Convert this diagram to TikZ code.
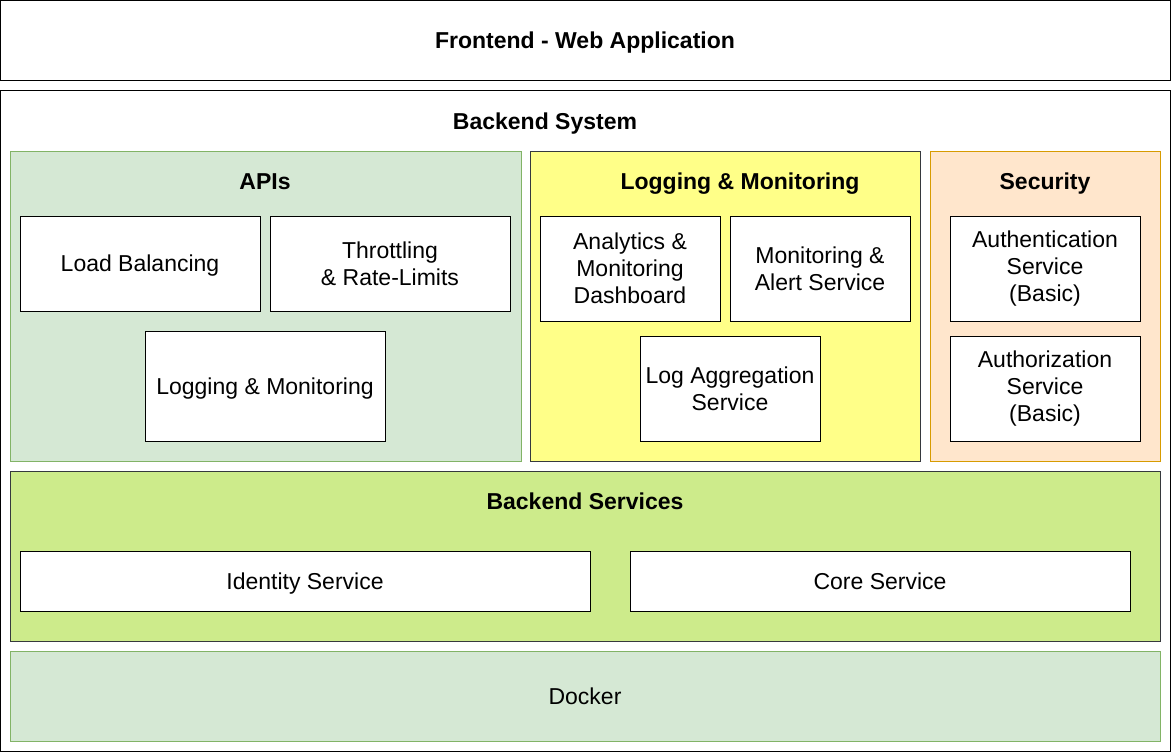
\documentclass[tikz,border=0pt]{standalone}
\usepackage{fontspec}
\setmainfont{Liberation Sans}
\definecolor{apifill}{HTML}{D5E8D4}
\definecolor{apiline}{HTML}{82B366}
\definecolor{logfill}{HTML}{FFFF88}
\definecolor{darkline}{HTML}{36393D}
\definecolor{secfill}{HTML}{FFE6CC}
\definecolor{secline}{HTML}{D79B00}
\definecolor{svcfill}{HTML}{CDEB8B}
\tikzset{
  layer/.style 2 args={draw, line width=0.75pt, inner sep=0pt,
    minimum width=#1*0.75pt, minimum height=#2*0.75pt},
  box/.style 2 args={layer={#1}{#2}, fill=white, align=center,
    font=\fontsize{17.25}{20.25}\selectfont},
  oneline/.style={text height=12.4pt, text depth=0pt},
  title/.style={font=\bfseries\fontsize{17.25}{20.25}\selectfont, inner sep=0pt, oneline}
}
\begin{document}
\begin{tikzpicture}[x=0.75pt,y=-0.75pt]
\useasboundingbox (0,0) rectangle (1172,753);

% frontend and backend frames
\node[layer={1170}{80}, oneline, font=\bfseries\fontsize{17.25}{20.25}\selectfont] (front) at (585,40) {Frontend - Web Application};
\node[layer={1170}{661}] (backend) at (585,421) {};
\node[title] (backendtitle) at (545,121) {Backend System};

% APIs
\node[layer={511}{310}, draw=apiline, fill=apifill] (apis) at (265.5,306) {};
\node[title] (apistitle) at (265,181) {APIs};
\node[box={240}{95}, oneline] (loadbal) at (140,263.5) {Load Balancing};
\node[box={240}{95}] (throttle) at (390,263.5) {Throttling\\\& Rate-Limits};
\node[box={240}{110}, oneline] (apilog) at (265,386) {Logging \& Monitoring};

% logging and monitoring
\node[layer={390}{310}, draw=darkline, fill=logfill] (logmon) at (725,306) {};
\node[title] (logmontitle) at (740,181) {Logging \& Monitoring};
\node[box={180}{105}] (analytics) at (630,268.5) {Analytics \&\\Monitoring\\Dashboard};
\node[box={180}{105}] (alert) at (820,268.5) {Monitoring \&\\Alert Service};
\node[box={180}{105}] (logagg) at (730,388.5) {Log Aggregation\\Service};

% security
\node[layer={230}{310}, draw=secline, fill=secfill] (security) at (1045,306) {};
\node[title] (sectitle) at (1045,181) {Security};
\node[box={190}{105}] (authn) at (1045,268.5) {Authentication\\Service\\(Basic)};
\node[box={190}{105}] (authz) at (1045,388.5) {Authorization\\Service\\(Basic)};

% backend services
\node[layer={1150}{170}, draw=darkline, fill=svcfill] (services) at (585,556) {};
\node[title] (svctitle) at (585,501) {Backend Services};
\node[box={570}{60}, oneline] (identity) at (305,581) {Identity Service};
\node[box={500}{60}, oneline] (core) at (880,581) {Core Service};

% docker
\node[box={1150}{90}, oneline, draw=apiline, fill=apifill] (docker) at (585,696) {Docker};

\end{tikzpicture}
\end{document}
